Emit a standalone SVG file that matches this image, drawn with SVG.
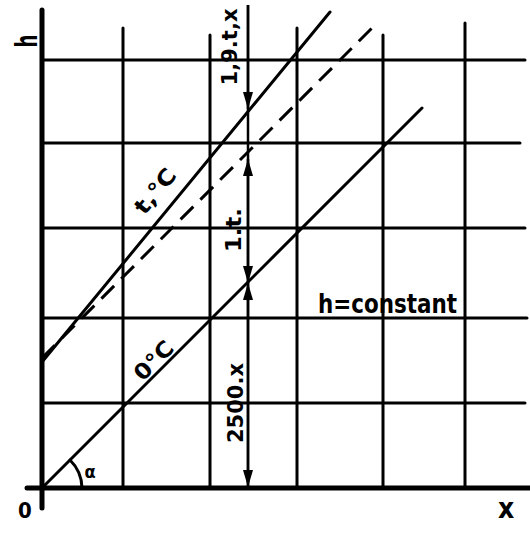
<svg xmlns="http://www.w3.org/2000/svg" width="530" height="534" viewBox="0 0 530 534">
<defs>
<style>
.grid{stroke:#000;stroke-width:3;stroke-linecap:round;fill:none}
.axis{stroke:#000;stroke-width:5;stroke-linecap:round;fill:none}
.ln{stroke:#000;stroke-width:3;stroke-linecap:round;fill:none}
.dash{stroke:#000;stroke-width:3;stroke-dasharray:18 10;fill:none}
.dim{stroke:#000;stroke-width:2.5;fill:none}
.lbl{font-family:"DejaVu Sans Condensed","DejaVu Sans",sans-serif;font-weight:bold;fill:#000}
</style>
<marker id="ah" viewBox="0 0 17 10" refX="17" refY="5" markerWidth="17" markerHeight="10" markerUnits="userSpaceOnUse" orient="auto-start-reverse">
<path d="M0,0 L17,5 L0,10 z" fill="#000"/>
</marker>
</defs>
<rect width="530" height="534" fill="#fff"/>
<g id="grid">
<line class="grid" x1="42" y1="60" x2="525" y2="60"/>
<line class="grid" x1="42" y1="143" x2="520" y2="143"/>
<line class="grid" x1="42" y1="228" x2="525" y2="228"/>
<line class="grid" x1="42" y1="318" x2="527" y2="318"/>
<line class="grid" x1="42" y1="403" x2="525" y2="403"/>
<line class="grid" x1="123" y1="28" x2="123" y2="488"/>
<line class="grid" x1="210" y1="35" x2="210" y2="488"/>
<line class="grid" x1="297" y1="28" x2="297" y2="488"/>
<line class="grid" x1="383" y1="35" x2="383" y2="488"/>
<line class="grid" x1="465" y1="23" x2="465" y2="488"/>
</g>
<g id="axes">
<line class="axis" x1="42" y1="10" x2="42" y2="508"/>
<line class="axis" x1="27" y1="488" x2="530" y2="488"/>
</g>
<g id="connectors">
<line id="line-0C" class="ln" x1="42" y1="488" x2="422" y2="108"/>
<line id="line-tC" class="ln" x1="42" y1="362" x2="330" y2="12"/>
<line id="line-dashed" class="dash" x1="42" y1="358" x2="373" y2="27"/>
<path id="angle-arc" class="ln" d="M82,488 A40,40 0 0 0 70,460"/>
<line class="dim" x1="248" y1="5" x2="248" y2="487"/>
<line class="dim" x1="248" y1="5" x2="248" y2="109" marker-end="url(#ah)"/>
<line class="dim" x1="248" y1="159" x2="248" y2="283" marker-start="url(#ah)" marker-end="url(#ah)"/>
<line class="dim" x1="248" y1="283" x2="248" y2="487" marker-start="url(#ah)" marker-end="url(#ah)"/>
</g>
<g id="label-h"><text class="lbl" font-size="30" transform="translate(37,41) rotate(-90)" text-anchor="middle" textLength="13" lengthAdjust="spacingAndGlyphs">h</text></g>
<g id="label-0"><text class="lbl" font-size="22" x="25" y="518" text-anchor="middle">0</text></g>
<g id="label-x"><text class="lbl" font-size="28" x="506" y="518" text-anchor="middle">x</text></g>
<g id="label-alpha"><text class="lbl" font-size="18" x="90" y="478" text-anchor="middle">α</text></g>
<g id="label-19tx"><text class="lbl" font-size="22" transform="translate(237,47) rotate(-90)" text-anchor="middle" textLength="77" lengthAdjust="spacingAndGlyphs">1,9.t,x</text></g>
<g id="label-1t"><text class="lbl" font-size="22" transform="translate(241,230) rotate(-90)" text-anchor="middle" textLength="44" lengthAdjust="spacingAndGlyphs">1.t.</text></g>
<g id="label-2500x"><text class="lbl" font-size="22" transform="translate(243,403) rotate(-90)" text-anchor="middle" textLength="80" lengthAdjust="spacingAndGlyphs">2500.x</text></g>
<g id="label-0C"><text class="lbl" font-size="22" transform="translate(159,366) rotate(-45)" text-anchor="middle" textLength="46" lengthAdjust="spacingAndGlyphs">0°C</text></g>
<g id="label-tC"><text class="lbl" font-size="22" transform="translate(161,196) rotate(-50.4)" text-anchor="middle" textLength="52" lengthAdjust="spacingAndGlyphs">t,°C</text></g>
<g id="label-hconst"><text class="lbl" font-size="26" x="318" y="313" textLength="139" lengthAdjust="spacingAndGlyphs">h=constant</text></g>
</svg>
